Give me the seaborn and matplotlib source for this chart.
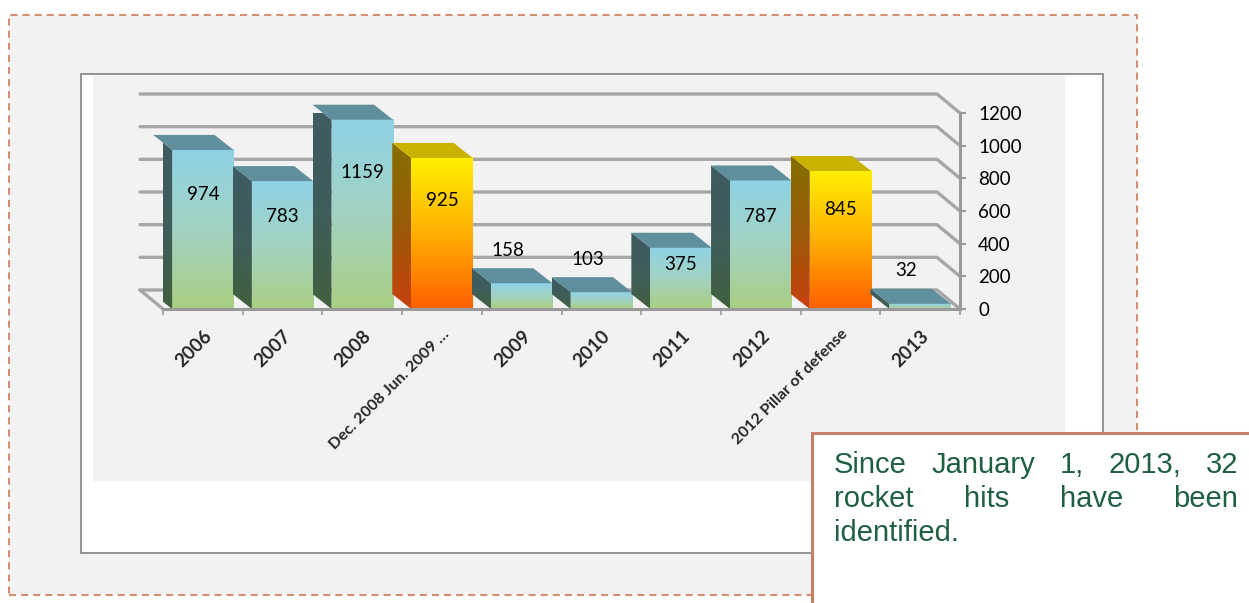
import numpy as np
import pandas as pd
import seaborn as sns
import matplotlib.pyplot as plt
from matplotlib.patches import Rectangle, Polygon
from matplotlib.colors import LinearSegmentedColormap

# Chart data
categories = ["2006", "2007", "2008", "Dec. 2008 Jun. 2009 …", "2009", "2010",
              "2011", "2012", "2012 Pillar of defense", "2013"]
rockets = [974, 783, 1159, 925, 158, 103, 375, 787, 845, 32]
is_operation = [False, False, False, True, False, False, False, False, True, False]
y_ticks = [0, 200, 400, 600, 800, 1000, 1200]
note_lines = [["Since", "January", "1,", "2013,", "32"],
              ["rocket", "hits", "have", "been"],
              ["identified."]]

W, H = 1249, 603
sns.set_theme(style="white")
plt.rcParams["font.family"] = ["Lato", "DejaVu Sans"]

fig = plt.figure(figsize=(W / 100, H / 100), dpi=100)
fig.patch.set_facecolor("white")


def box(x0, y0, x1, y1):
    # pixel box (top-left origin) -> figure-fraction rectangle args
    return (x0 / W, 1 - y1 / H), (x1 - x0) / W, (y1 - y0) / H


# outer dashed frame, chart frame, plot area
fig.add_artist(Rectangle(*box(9, 15, 1137, 595), transform=fig.transFigure,
                         fc="#f2f2f2", ec="#d38f70", lw=1.5, ls=(0, (3.4, 2.4)), zorder=-3))
fig.add_artist(Rectangle(*box(81, 74, 1103, 553), transform=fig.transFigure,
                         fc="white", ec="#8c8c8c", lw=1.3, zorder=-2))
fig.add_artist(Rectangle(*box(93, 76, 1065, 481), transform=fig.transFigure,
                         fc="#f2f2f2", ec="none", zorder=-1))

ax = fig.add_axes([163 / W, 1 - 309 / H, (960 - 163) / W, (309 - 113) / H])
ax.set_zorder(1)
ax.patch.set_alpha(0)

df = pd.DataFrame({"period": categories, "rockets": rockets})
sns.barplot(data=df, x="period", y="rockets", width=0.77, ax=ax, color="#9fd2cf")
ax.set_xlim(-0.5, 9.5)
ax.set_ylim(0, 1200)

# pixel -> data scale for the fake depth
px_x = ax.transData.transform((1, 0))[0] - ax.transData.transform((0, 0))[0]
px_y = ax.transData.transform((0, 1))[1] - ax.transData.transform((0, 0))[1]
bdx, bdy = -19 / px_x, 15 / px_y      # bar depth
wdx, wdy = -23 / px_x, 19 / px_y      # wall depth

grid_c = "#a6a6a6"
for t in y_ticks:
    ax.plot([-0.5 + wdx, 9.5 + wdx, 9.5], [t + wdy, t + wdy, t], color=grid_c,
            lw=2.4, solid_capstyle="round", clip_on=False, zorder=0.5)
ax.plot([-0.5 + wdx, -0.5], [wdy, 0], color=grid_c, lw=2.4, clip_on=False, zorder=0.5)

blue_front = LinearSegmentedColormap.from_list("bf", ["#aacf82", "#a2d2c2", "#8fd3e6"])
blue_side = LinearSegmentedColormap.from_list("bs", ["#42603f", "#3f5d5c", "#3e5c62"])
orange_front = LinearSegmentedColormap.from_list("of", ["#ff5f00", "#ffb000", "#fff000"])
orange_side = LinearSegmentedColormap.from_list("os", ["#c8400f", "#9a5a08", "#857000"])
grad = np.linspace(0, 1, 256).reshape(-1, 1)

for patch, op in zip(ax.patches, is_operation):
    x0, w, h = patch.get_x(), patch.get_width(), patch.get_height()
    x1 = x0 + w
    patch.set_facecolor("none")
    patch.set_edgecolor("none")
    fcm, scm = (orange_front, orange_side) if op else (blue_front, blue_side)
    top_c = "#c9b200" if op else "#5f8e9d"
    ax.imshow(grad, extent=[x0, x1, 0, h], origin="lower", aspect="auto",
              cmap=fcm, zorder=2, clip_on=False)
    side = Polygon([(x0, 0), (x0, h), (x0 + bdx, h + bdy), (x0 + bdx, bdy)],
                   closed=True, fc="none", ec="none", clip_on=False)
    ax.add_patch(side)
    im = ax.imshow(grad, extent=[x0 + bdx, x0, 0, h + bdy], origin="lower",
                   aspect="auto", cmap=scm, zorder=2)
    im.set_clip_path(side)
    ax.add_patch(Polygon([(x0, h), (x1, h), (x1 + bdx, h + bdy), (x0 + bdx, h + bdy)],
                         closed=True, fc=top_c, ec="none", zorder=2.1, clip_on=False))

ax.set_xlim(-0.5, 9.5)
ax.set_ylim(0, 1200)

# value labels
for i, v in enumerate(rockets):
    if v >= 300:
        ax.text(i, v * 0.72, str(v), ha="center", va="center", fontsize=13.5,
                color="black", zorder=5)
    else:
        ax.annotate(str(v), (i, v), xytext=(-14, 33), textcoords="offset pixels",
                    ha="center", va="center", fontsize=13.5, color="black", zorder=5)

# axes styling
for s in ["top", "left"]:
    ax.spines[s].set_visible(False)
for s in ["right", "bottom"]:
    ax.spines[s].set_color("#9a9a9a")
    ax.spines[s].set_linewidth(2.2)
ax.yaxis.tick_right()
ax.set_yticks(y_ticks)
ax.tick_params(axis="y", right=True, length=4, width=1.5, color="#9a9a9a",
               pad=9, labelsize=13.5, labelcolor="black")
ax.set_xticks(range(len(categories)))
ax.set_xticks(np.arange(-0.5, 10, 1), minor=True)
ax.tick_params(axis="x", which="major", length=0, pad=13)
ax.tick_params(axis="x", which="minor", bottom=True, length=4, width=1.2, color="#9a9a9a")
ax.set_xticklabels(categories, rotation=45, ha="right", rotation_mode="anchor",
                   fontweight="bold")
for lab in ax.get_xticklabels():
    lab.set_fontsize(11.5 if len(lab.get_text()) > 4 else 13.5)
ax.set_xlabel("")
ax.set_ylabel("")

# note box with justified text
fig.add_artist(Rectangle(*box(812, 433, 1270, 620), transform=fig.transFigure,
                         fc="white", ec="#c58068", lw=2.2, zorder=5, clip_on=False))
renderer = fig.canvas.get_renderer()
left_px, right_px = 834, 1238
baselines = [473, 507, 541]
for words, base in zip(note_lines, baselines):
    texts = [fig.text(0, 1 - base / H, wd, fontsize=21, color="#1f5f42",
                      family="Liberation Sans", va="baseline", zorder=6) for wd in words]
    widths = [t.get_window_extent(renderer).width for t in texts]
    if len(words) > 1 and words is not note_lines[-1]:
        gap = (right_px - left_px - sum(widths)) / (len(words) - 1)
    else:
        gap = 12
    x = left_px
    for t, wd in zip(texts, widths):
        t.set_x(x / W)
        x += wd + gap

fig.savefig("out.png", dpi=100)
